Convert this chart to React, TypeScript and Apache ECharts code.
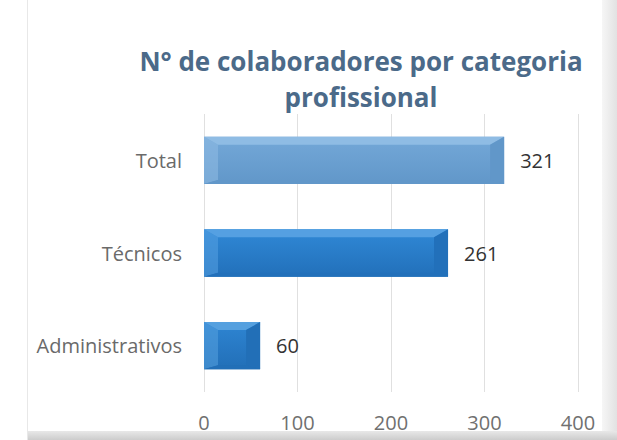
import React, { useEffect, useRef } from "react";
import * as echarts from "echarts";

const titleText = "N° de colaboradores por categoria\nprofissional";
const categories = ["Total", "Técnicos", "Administrativos"];
const values = [321, 261, 60];
const xTicks = [0, 100, 200, 300, 400];
const barBase = ["#74a8d8", "#3088d6", "#2e85d3"];
const barLight = ["#8fbce4", "#55a0e2", "#55a0df"];
const barDark = ["#6197c9", "#2270ba", "#226fb7"];

export default function App() {
  const ref = useRef<HTMLDivElement>(null);
  useEffect(() => {
    if (!ref.current) return;
    const chart = echarts.init(ref.current, null, { renderer: "svg" });
    const font = "'Open Sans', 'DejaVu Sans', sans-serif";
    chart.setOption({
      animation: false,
      backgroundColor: "#ffffff",
      grid: { left: 204, right: 39, top: 114, bottom: 48 },
      xAxis: {
        type: "value",
        min: xTicks[0],
        max: xTicks[xTicks.length - 1],
        interval: 100,
        axisLine: { show: false },
        axisTick: { show: false },
        splitLine: { show: true, lineStyle: { color: "#e0e0e0", width: 1 } },
        axisLabel: { color: "#707070", fontSize: 20, fontFamily: font, margin: 20 },
      },
      yAxis: {
        type: "category",
        data: categories,
        inverse: true,
        axisLine: { show: false },
        axisTick: { show: false },
        axisLabel: { color: "#6a6a6a", fontSize: 20, fontFamily: font, margin: 22 },
      },
      graphic: [
        {
          type: "rect",
          shape: { x: 27, y: 0, width: 1, height: 440 },
          style: { fill: "#e8e8e8" },
          silent: true,
        },
        {
          type: "rect",
          shape: { x: 602, y: 0, width: 15, height: 440 },
          style: {
            fill: new echarts.graphic.LinearGradient(0, 0, 1, 0, [
              { offset: 0, color: "#f6f6f6" },
              { offset: 1, color: "#e2e2e2" },
            ]),
          },
          silent: true,
        },
        {
          type: "rect",
          shape: { x: 28, y: 431, width: 589, height: 9 },
          style: {
            fill: new echarts.graphic.LinearGradient(0, 0, 0, 1, [
              { offset: 0, color: "#e8e8e8" },
              { offset: 1, color: "#cccccc" },
            ]),
          },
          silent: true,
        },
        {
          type: "text",
          x: 361,
          y: 43,
          style: {
            text: titleText,
            fill: "#4b6a89",
            font: `bold 26px ${font}`,
            textAlign: "center",
            textVerticalAlign: "top",
            lineHeight: 36,
          },
        },
      ],
      series: [
        {
          type: "custom",
          data: values.map((v, i) => [v, i]),
          encode: { x: 0, y: 1 },
          renderItem: (params: any, api: any) => {
            const v = api.value(0);
            const idx = api.value(1);
            const p0 = api.coord([0, idx]);
            const p1 = api.coord([v, idx]);
            const band = api.size([0, 1])[1];
            const h = band * 0.51;
            const x0 = p0[0];
            const x1 = p1[0];
            const y0 = p0[1] - h / 2;
            const y1 = p0[1] + h / 2;
            const bt = Math.min(8, h / 4);
            const bs = Math.min(14, (x1 - x0) / 3);
            const bb = Math.min(4, h / 6);
            const i = params.dataIndex;
            return {
              type: "group",
              children: [
                {
                  type: "rect",
                  shape: { x: x0, y: y0, width: x1 - x0, height: y1 - y0 },
                  style: {
                    fill: new echarts.graphic.LinearGradient(0, 0, 0, 1, [
                      { offset: 0, color: barBase[i] },
                      { offset: 1, color: barDark[i] },
                    ]),
                  },
                },
                {
                  type: "polygon",
                  shape: { points: [[x0, y0], [x1, y0], [x1 - bs, y0 + bt], [x0 + bs, y0 + bt]] },
                  style: { fill: barLight[i] },
                },
                {
                  type: "polygon",
                  shape: { points: [[x0, y0], [x0 + bs, y0 + bt], [x0 + bs, y1 - bb], [x0, y1]] },
                  style: { fill: barLight[i], opacity: 0.55 },
                },
                {
                  type: "polygon",
                  shape: { points: [[x1, y0], [x1 - bs, y0 + bt], [x1 - bs, y1 - bb], [x1, y1]] },
                  style: { fill: barDark[i] },
                },
                {
                  type: "polygon",
                  shape: { points: [[x0, y1], [x1, y1], [x1 - bs, y1 - bb], [x0 + bs, y1 - bb]] },
                  style: { fill: barDark[i] },
                },
                {
                  type: "text",
                  x: x1 + 16,
                  y: p0[1],
                  style: {
                    text: String(v),
                    fill: "#333333",
                    font: `20px ${font}`,
                    textAlign: "left",
                    textVerticalAlign: "middle",
                  },
                },
              ],
            };
          },
        },
      ],
    });
    return () => chart.dispose();
  }, []);
  return (
    <div
      ref={ref}
      style={{ position: "fixed", left: 0, top: 0, width: 617, height: 440 }}
    />
  );
}
